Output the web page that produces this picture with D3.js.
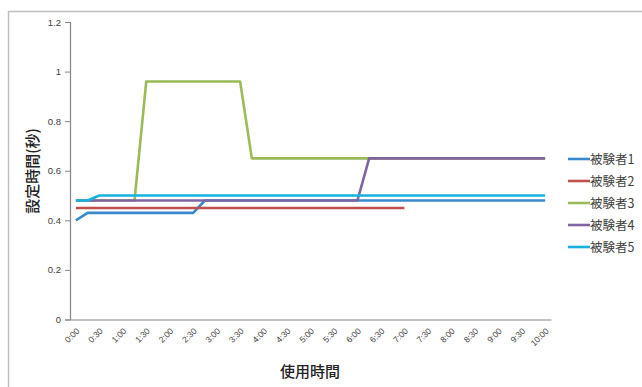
<!DOCTYPE html>
<html><head><meta charset="utf-8">
<script src="https://cdn.jsdelivr.net/npm/d3@7"></script>
<style>body{margin:0;background:#fff}svg{display:block}</style>
</head><body>
<script>
const categories = [];
for (let h = 0; h <= 10; h++) for (const m of ["00","15","30","45"]) { if (h === 10 && m !== "00") break; categories.push(h + ":" + m); }
const seriesNames = ["被験者1","被験者2","被験者3","被験者4","被験者5"];
const s1 = [0.40,0.43,0.43,0.43,0.43,0.43,0.43,0.43,0.43,0.43,0.43,0.48,0.48,0.48,0.48,0.48,0.48,0.48,0.48,0.48,0.48,0.48,0.48,0.48,0.48,0.48,0.48,0.48,0.48,0.48,0.48,0.48,0.48,0.48,0.48,0.48,0.48,0.48,0.48,0.48,0.48];
const s2 = [0.45,0.45,0.45,0.45,0.45,0.45,0.45,0.45,0.45,0.45,0.45,0.45,0.45,0.45,0.45,0.45,0.45,0.45,0.45,0.45,0.45,0.45,0.45,0.45,0.45,0.45,0.45,0.45,0.45];
const s3 = [0.48,0.48,0.48,0.48,0.48,0.48,0.96,0.96,0.96,0.96,0.96,0.96,0.96,0.96,0.96,0.65,0.65,0.65,0.65,0.65,0.65,0.65,0.65,0.65,0.65,0.65,0.65,0.65,0.65,0.65,0.65,0.65,0.65,0.65,0.65,0.65,0.65,0.65,0.65,0.65,0.65];
const s4 = [0.48,0.48,0.48,0.48,0.48,0.48,0.48,0.48,0.48,0.48,0.48,0.48,0.48,0.48,0.48,0.48,0.48,0.48,0.48,0.48,0.48,0.48,0.48,0.48,0.48,0.65,0.65,0.65,0.65,0.65,0.65,0.65,0.65,0.65,0.65,0.65,0.65,0.65,0.65,0.65,0.65];
const s5 = [0.48,0.48,0.50,0.50,0.50,0.50,0.50,0.50,0.50,0.50,0.50,0.50,0.50,0.50,0.50,0.50,0.50,0.50,0.50,0.50,0.50,0.50,0.50,0.50,0.50,0.50,0.50,0.50,0.50,0.50,0.50,0.50,0.50,0.50,0.50,0.50,0.50,0.50,0.50,0.50,0.50];
const yTicks = [0, 0.2, 0.4, 0.6, 0.8, 1, 1.2];
const colors = ["#3a89cc","#c0504d","#9bbb59","#8064a2","#17b2e2"];
const series = [s1,s2,s3,s4,s5];

const W = 642, H = 387;
const svg = d3.select("body").append("svg").attr("width", W).attr("height", H);
svg.append("rect").attr("x",8.5).attr("y",11.5).attr("width",W+10).attr("height",H+10)
  .attr("fill","#fff").attr("stroke","#bfbfbf").attr("stroke-width",1.5);

const mLeft = 70, mRight = 551, mTop = 22, mBottom = 319.5;
const x = d3.scaleBand().domain(categories).range([mLeft, mRight]);
const y = d3.scaleLinear().domain([0, 1.2]).range([mBottom, mTop]);

const font = "'Liberation Sans', Arial, sans-serif";
const cjk = "'Noto Sans CJK JP', sans-serif";

// y axis
const ya = svg.append("g").attr("transform", `translate(${mLeft},0)`)
  .call(d3.axisLeft(y).tickValues(yTicks).tickSize(5).tickPadding(4).tickFormat(d => d3.format("")(d)));
ya.select(".domain").attr("stroke","#868686").attr("stroke-width",1.2);
ya.selectAll(".tick line").attr("stroke","#868686");
ya.selectAll("text").attr("font-family", font).attr("font-size", 9.5).attr("fill","#404040");

// x axis
const xa = svg.append("g").attr("transform", `translate(0,${mBottom})`)
  .call(d3.axisBottom(x).tickSize(0).tickValues(categories.filter((d,i)=>i%2===0)));
xa.select(".domain").attr("stroke","#868686").attr("stroke-width",1.2);
xa.selectAll("text").attr("font-family", font).attr("font-size", 8.5).attr("fill","#404040")
  .attr("text-anchor","end").attr("dy",0)
  .attr("transform","translate(2,10) rotate(-45)");

// lines
const line = d3.line().x((d,i)=>x(categories[i]) + x.bandwidth()/2).y(d=>y(d));
series.forEach((s,k)=>{
  svg.append("path").datum(s).attr("d", line).attr("fill","none")
    .attr("stroke", colors[k]).attr("stroke-width", 2.6).attr("stroke-linejoin","round");
});

// legend
seriesNames.forEach((n,k)=>{
  const ly = 159 + k*22;
  svg.append("line").attr("x1",568).attr("x2",590).attr("y1",ly).attr("y2",ly)
    .attr("stroke",colors[k]).attr("stroke-width",2.6);
  svg.append("text").attr("x",590).attr("y",ly+4.5).text(n)
    .attr("font-family", cjk).attr("font-size", 12.5).attr("fill","#404040");
});

// titles
svg.append("text").attr("x",310).attr("y",377).attr("text-anchor","middle").text("使用時間")
  .attr("font-family", cjk).attr("font-size", 15).attr("font-weight","500").attr("fill","#222");
svg.append("text").attr("transform","translate(38,171) rotate(-90)").attr("text-anchor","middle").text("設定時間(秒)")
  .attr("font-family", cjk).attr("font-size", 15).attr("font-weight","500").attr("fill","#222");
</script>
</body></html>
